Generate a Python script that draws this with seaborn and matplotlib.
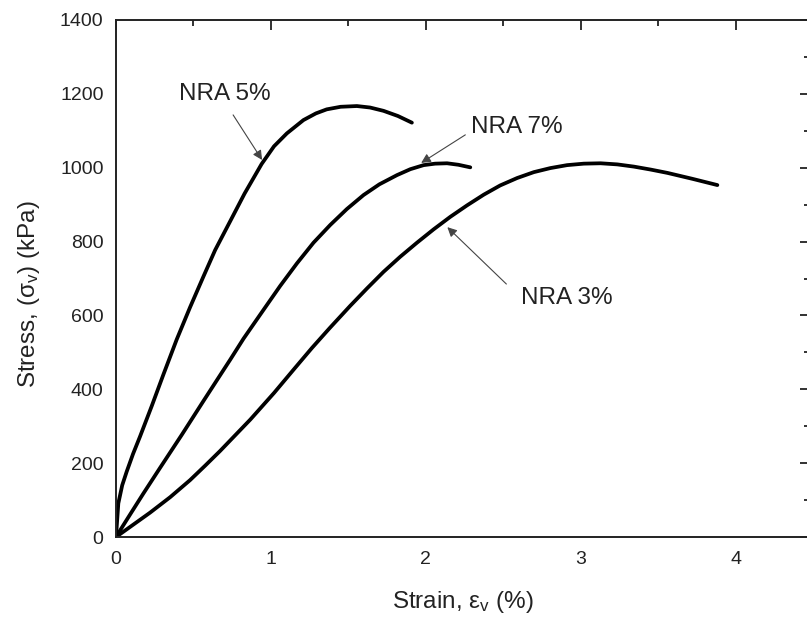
import numpy as np
import pandas as pd
import matplotlib
matplotlib.use("Agg")
import matplotlib.pyplot as plt
import seaborn as sns
from matplotlib.ticker import MultipleLocator

# Data
strain_5 = [0.0, 0.015, 0.04, 0.069, 0.11, 0.155, 0.231, 0.306, 0.392, 0.478, 0.564, 0.64,
            0.737, 0.83, 0.94, 1.02, 1.103, 1.21, 1.29, 1.36, 1.45, 1.555, 1.64, 1.727, 1.82, 1.91]
stress_5 = [0, 91, 140, 177, 225, 272, 355, 440, 535, 622, 705, 777,
            855, 930, 1010, 1058, 1093, 1129, 1147, 1158, 1165, 1167, 1163, 1154, 1140, 1122]

strain_7 = [0.0, 0.04, 0.1, 0.177, 0.284, 0.425, 0.564, 0.672, 0.737, 0.823, 0.952, 1.06,
            1.168, 1.275, 1.383, 1.49, 1.598, 1.70, 1.814, 1.90, 1.986, 2.06, 2.137, 2.21, 2.287]
stress_7 = [0, 27, 67, 118, 187, 277, 368, 438, 480, 537, 615, 680,
            741, 797, 845, 888, 926, 955, 980, 996, 1007, 1011, 1012, 1008, 1001]

strain_3 = [0.0, 0.1, 0.22, 0.35, 0.478, 0.575, 0.672, 0.867, 1.02, 1.15, 1.265, 1.38, 1.512,
            1.62, 1.727, 1.835, 1.943, 2.05, 2.158, 2.266, 2.374, 2.48, 2.589, 2.697, 2.804,
            2.912, 3.02, 3.128, 3.236, 3.343, 3.451, 3.559, 3.72, 3.882]
stress_3 = [0, 30, 66, 108, 154, 193, 233, 318, 390, 455, 512, 566, 626,
            673, 718, 759, 797, 833, 867, 898, 927, 952, 972, 988, 999,
            1007, 1011, 1012, 1009, 1003, 995, 986, 970, 953]

labels = ["NRA 5%", "NRA 7%", "NRA 3%"]
x_ticks = [0, 1, 2, 3, 4]
y_ticks = [0, 200, 400, 600, 800, 1000, 1200, 1400]

df = pd.concat([
    pd.DataFrame({"strain": strain_5, "stress": stress_5, "series": labels[0]}),
    pd.DataFrame({"strain": strain_7, "stress": stress_7, "series": labels[1]}),
    pd.DataFrame({"strain": strain_3, "stress": stress_3, "series": labels[2]}),
], ignore_index=True)

sns.set_style("white")
plt.rcParams["font.family"] = ["Liberation Sans", "DejaVu Sans"]
plt.rcParams["mathtext.fontset"] = "custom"
plt.rcParams["mathtext.rm"] = "Liberation Sans"
plt.rcParams["mathtext.it"] = "Liberation Sans"

fig = plt.figure(figsize=(8.07, 6.19), dpi=100)
ax = fig.add_axes([116 / 807, (619 - 537) / 619, (810 - 116) / 807, 517 / 619])

sns.lineplot(data=df, x="strain", y="stress", hue="series", units="series",
             estimator=None, sort=False, palette=["black"] * 3, linewidth=2.7,
             legend=False, ax=ax)

ax.set_xlim(0, 4.48)
ax.set_ylim(0, 1400)
ax.set_xticks(x_ticks)
ax.set_yticks(y_ticks)
ax.xaxis.set_minor_locator(MultipleLocator(0.5))
ax.yaxis.set_minor_locator(MultipleLocator(100))
ax.tick_params(which="both", direction="in", top=True, right=True,
               labeltop=False, labelright=False, color="#222222", width=1.3)
ax.tick_params(which="major", length=7, labelsize=14, labelcolor="#222222")
ax.tick_params(axis="x", which="major", pad=10)
ax.tick_params(axis="y", which="major", pad=9)
ax.tick_params(which="minor", length=4.5)
for s in ax.spines.values():
    s.set_linewidth(1.4)
    s.set_color("#222222")

ax.set_xlabel("Strain, $\\mathregular{\\varepsilon_v}$ (%)", fontsize=17.5, labelpad=15,
              color="#222222")
ax.set_ylabel("Stress, ($\\mathregular{\\sigma_v}$) (kPa)", fontsize=17.5,
              color="#222222")
ax.yaxis.set_label_coords(-0.106, 0.47)

arrow = dict(arrowstyle="-|>", color="#444444", lw=0.8, mutation_scale=14,
             shrinkA=0, shrinkB=0)
ax.annotate("", xy=(0.943, 1021), xytext=(0.756, 1143), arrowprops=arrow)
ax.annotate("", xy=(1.97, 1013), xytext=(2.255, 1089), arrowprops=arrow)
ax.annotate("", xy=(2.139, 839), xytext=(2.52, 685), arrowprops=arrow)

ax.text(0.704, 1200, labels[0], fontsize=17.5, ha="center", va="center", color="#222222")
ax.text(2.585, 1110, labels[1], fontsize=17.5, ha="center", va="center", color="#222222")
ax.text(2.908, 648, labels[2], fontsize=17.5, ha="center", va="center", color="#222222")

fig.savefig("out.png", dpi=100)
